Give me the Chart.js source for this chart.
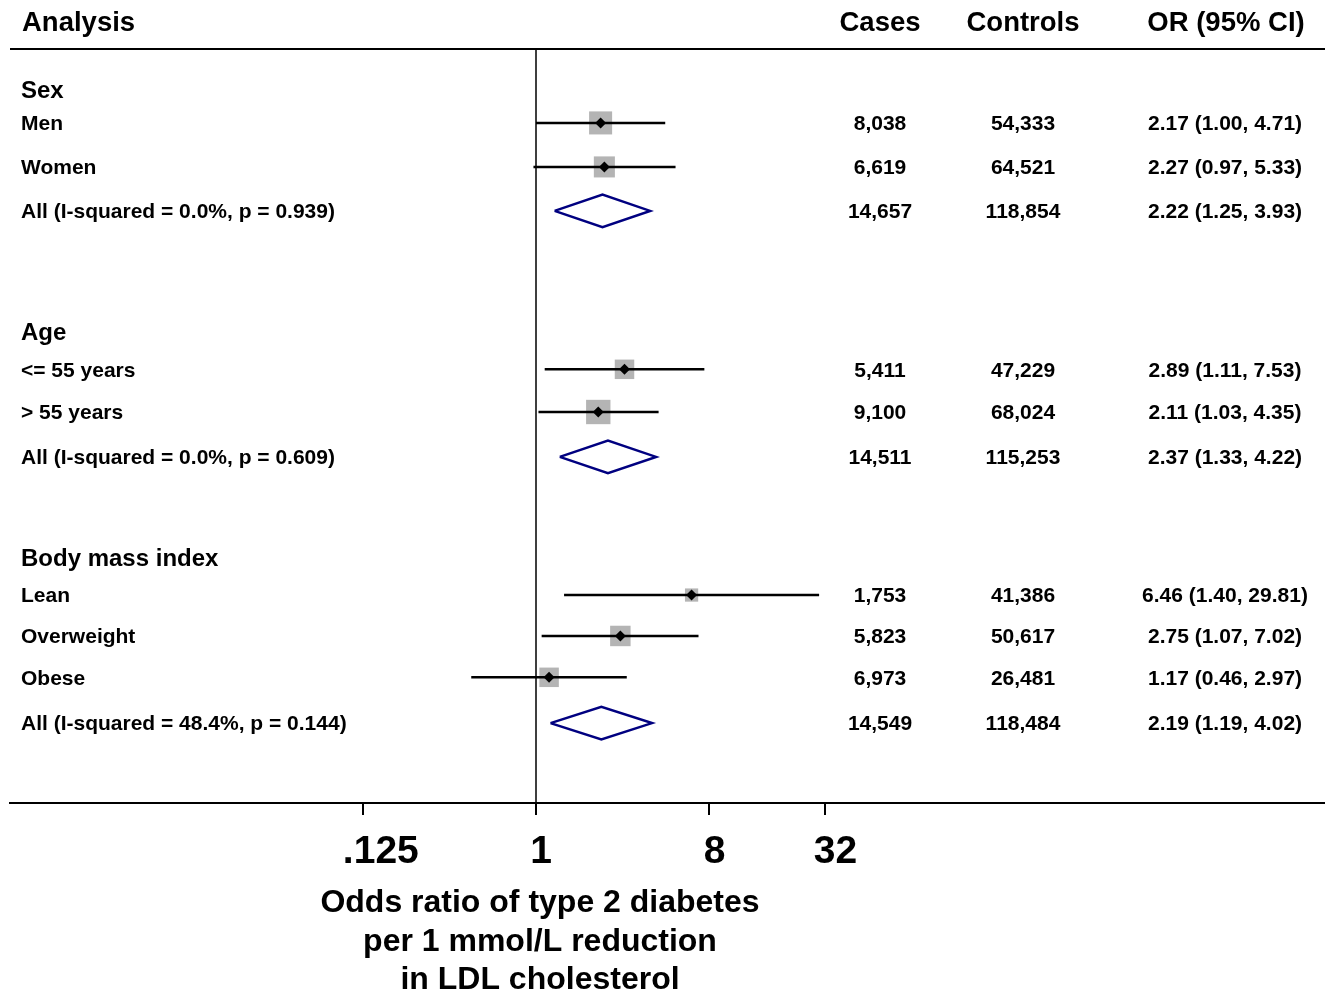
<!DOCTYPE html>
<html>
<head>
<meta charset="utf-8">
<script src="https://cdn.jsdelivr.net/npm/chart.js@4/dist/chart.umd.min.js"></script>
<style>
  html, body { margin: 0; padding: 0; background: #ffffff; }
  #wrap { width: 1325px; height: 992px; position: relative; }
</style>
</head>
<body>
<div id="wrap"><canvas id="c" width="1325" height="992"></canvas></div>
<script>
// ---------------- data ----------------
const headers = ['Analysis', 'Cases', 'Controls', 'OR (95% CI)'];
const rowLabels = [
  'Sex', 'Men', 'Women', 'All (I-squared = 0.0%, p = 0.939)',
  'Age', '<= 55 years', '> 55 years', 'All (I-squared = 0.0%, p = 0.609)',
  'Body mass index', 'Lean', 'Overweight', 'Obese', 'All (I-squared = 48.4%, p = 0.144)'
];
const rowTypes = [
  'group', 'study', 'study', 'pooled',
  'group', 'study', 'study', 'pooled',
  'group', 'study', 'study', 'study', 'pooled'
];
// row positions (row units from the top of the plot)
const rowPos = [0.91, 1.68, 2.68, 3.68, 6.41, 7.28, 8.25, 9.27, 11.55, 12.41, 13.34, 14.28, 15.32];
const cases    = [null, 8038, 6619, 14657, null, 5411, 9100, 14511, null, 1753, 5823, 6973, 14549];
const controls = [null, 54333, 64521, 118854, null, 47229, 68024, 115253, null, 41386, 50617, 26481, 118484];
const oddsRatio = [null, 2.17, 2.27, 2.22, null, 2.89, 2.11, 2.37, null, 6.46, 2.75, 1.17, 2.19];
const ciLow     = [null, 1.00, 0.97, 1.25, null, 1.11, 1.03, 1.33, null, 1.40, 1.07, 0.46, 1.19];
const ciHigh    = [null, 4.71, 5.33, 3.93, null, 7.53, 4.35, 4.22, null, 29.81, 7.02, 2.97, 4.02];
// study weights within subgroup (%), shown as box area
const weights   = [null, 54.5, 45.5, null, null, 39, 61, null, null, 18, 43, 39, null];
const tickValues = [0.125, 1, 8, 32];
const tickLabels = ['.125', '1', '8', '32'];
const axisTitle = ['Odds ratio of type 2 diabetes', 'per 1 mmol/L reduction', 'in LDL cholesterol'];

// ---------------- styling ----------------
const FONT = "'Liberation Sans', Arial, Helvetica, sans-serif";
const X_MIN = Math.pow(2, -9.10);
const X_MAX = Math.pow(2, 13.65);
const Y_MAX = 754 / 44;
const DIAMOND_HALF = 0.37;
const BOX_K = 3.12; // px side per sqrt(weight)

const fmt = n => n.toLocaleString('en-US');
const f2 = n => n.toFixed(2);

// ---------------- datasets ----------------
const datasets = [];
// null line at OR = 1
datasets.push({
  type: 'line', data: [{x: 1, y: 0}, {x: 1, y: Y_MAX}],
  borderColor: '#000000', borderWidth: 1.5, pointRadius: 0, order: 5
});
// CI lines for studies
rowTypes.forEach((t, i) => {
  if (t !== 'study') return;
  datasets.push({
    type: 'line', data: [{x: ciLow[i], y: rowPos[i]}, {x: ciHigh[i], y: rowPos[i]}],
    borderColor: '#000000', borderWidth: 2.5, pointRadius: 0, order: 3
  });
});
// pooled diamonds
rowTypes.forEach((t, i) => {
  if (t !== 'pooled') return;
  datasets.push({
    type: 'line',
    data: [
      {x: ciLow[i], y: rowPos[i]},
      {x: oddsRatio[i], y: rowPos[i] - DIAMOND_HALF},
      {x: ciHigh[i], y: rowPos[i]},
      {x: oddsRatio[i], y: rowPos[i] + DIAMOND_HALF},
      {x: ciLow[i], y: rowPos[i]}
    ],
    borderColor: '#000080', borderWidth: 2.5, pointRadius: 0, fill: false,
    tension: 0, borderJoinStyle: 'miter', order: 1
  });
});
// weight boxes
const studyIdx = rowTypes.map((t, i) => t === 'study' ? i : -1).filter(i => i >= 0);
datasets.push({
  type: 'scatter',
  data: studyIdx.map(i => ({x: oddsRatio[i], y: rowPos[i]})),
  pointStyle: 'rect',
  pointRadius: studyIdx.map(i => BOX_K * Math.sqrt(weights[i]) / (2 * Math.SQRT1_2)),
  backgroundColor: '#b4b4b4', borderWidth: 0, order: 4
});
// point estimate markers
datasets.push({
  type: 'scatter',
  data: studyIdx.map(i => ({x: oddsRatio[i], y: rowPos[i]})),
  pointStyle: 'rectRot', pointRadius: 5.5,
  backgroundColor: '#000000', borderColor: '#000000', borderWidth: 0, order: 2
});

// ---------------- text plugin ----------------
const textPlugin = {
  id: 'forestText',
  afterDraw(chart) {
    const ctx = chart.ctx;
    const ys = chart.scales.y;
    const xs = chart.scales.x;
    const ca = chart.chartArea;
    ctx.save();
    // top rule
    ctx.strokeStyle = '#000000';
    ctx.lineWidth = 2;
    ctx.beginPath();
    ctx.moveTo(ca.left, ca.top);
    ctx.lineTo(ca.right, ca.top);
    ctx.stroke();

    ctx.fillStyle = '#000000';
    ctx.textBaseline = 'middle';
    // headers
    ctx.font = 'bold 27.5px ' + FONT;
    ctx.textAlign = 'left';
    ctx.fillText(headers[0], 22, 23);
    ctx.textAlign = 'center';
    ctx.fillText(headers[1], 880, 23);
    ctx.fillText(headers[2], 1023, 23);
    ctx.fillText(headers[3], 1226, 23);

    rowLabels.forEach((lab, i) => {
      const y = ys.getPixelForValue(rowPos[i]) + 1.5;
      ctx.textAlign = 'left';
      if (rowTypes[i] === 'group') {
        ctx.font = 'bold 24px ' + FONT;
        ctx.fillText(lab, 21, y + 0.5);
        return;
      }
      ctx.font = 'bold 21px ' + FONT;
      ctx.fillText(lab, 21, y);
      ctx.textAlign = 'center';
      ctx.fillText(fmt(cases[i]), 880, y);
      ctx.fillText(fmt(controls[i]), 1023, y);
      ctx.fillText(f2(oddsRatio[i]) + ' (' + f2(ciLow[i]) + ', ' + f2(ciHigh[i]) + ')', 1225, y);
    });

    // tick labels (placed from the x scale)
    ctx.font = 'bold 39px ' + FONT;
    ctx.textAlign = 'left';
    tickValues.forEach((v, k) => {
      const px = xs.getPixelForValue(v);
      const w = ctx.measureText(tickLabels[k]).width;
      ctx.fillText(tickLabels[k], px - 0.26 * w, ca.bottom + 49);
    });

    // axis title
    ctx.font = 'bold 32px ' + FONT;
    ctx.textAlign = 'center';
    const titleY = [903, 942, 980];
    axisTitle.forEach((t, k) => ctx.fillText(t, 540, titleY[k]));
    ctx.restore();
  }
};

new Chart(document.getElementById('c'), {
  type: 'scatter',
  data: { datasets },
  options: {
    responsive: false,
    animation: false,
    events: [],
    layout: { padding: { left: 10, right: 0, top: 49, bottom: 0 }, autoPadding: false },
    plugins: { legend: { display: false }, tooltip: { enabled: false } },
    scales: {
      x: {
        type: 'logarithmic',
        min: X_MIN, max: X_MAX,
        position: 'bottom',
        afterBuildTicks: s => { s.ticks = tickValues.map(v => ({value: v})); },
        afterFit: s => { s.height = 189; },
        grid: { drawOnChartArea: false, drawTicks: true, tickLength: 12, color: '#000000', lineWidth: 2 },
        border: { display: true, color: '#000000', width: 2 },
        ticks: { display: false, autoSkip: false }
      },
      y: {
        type: 'linear', min: 0, max: Y_MAX, reverse: true, display: false
      }
    }
  },
  plugins: [textPlugin]
});
</script>
</body>
</html>
